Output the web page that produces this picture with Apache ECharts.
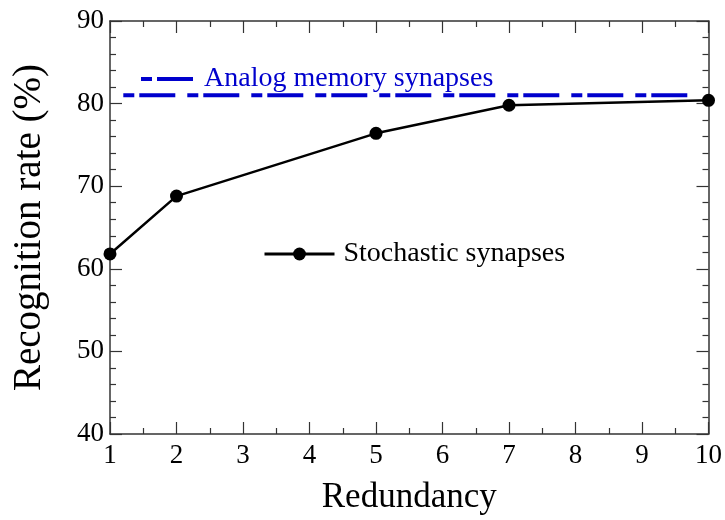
<!DOCTYPE html>
<html>
<head>
<meta charset="utf-8">
<script src="https://cdn.jsdelivr.net/npm/echarts@6/dist/echarts.min.js"></script>
<style>html,body{margin:0;padding:0;background:#fff}#c{width:725px;height:520px}</style>
</head>
<body>
<div id="c"></div>
<script>
var redundancy = [1, 2, 5, 7, 10];
var stochasticRate = [61.8, 68.8, 76.4, 79.8, 80.4];
var analogX = [1.2, 9.73];
var analogRate = [81, 81];
var xTicks = [1, 2, 3, 4, 5, 6, 7, 8, 9, 10];
var yTicks = [40, 50, 60, 70, 80, 90];

var FONT = '"Liberation Serif", "DejaVu Serif", serif';
var AX = '#333';
var chart = echarts.init(document.getElementById('c'), null, {renderer: 'canvas'});

function xAx(pos, show) {
  return {
    type: 'value', position: pos, min: xTicks[0], max: xTicks[xTicks.length - 1], interval: 1,
    axisLine: {show: true, onZero: false, lineStyle: {color: AX, width: 1.5}},
    axisTick: {show: true, inside: true, length: 12, lineStyle: {color: AX, width: 1.2}},
    minorTick: {show: true, splitNumber: 2, length: 6, lineStyle: {color: AX, width: 1.2}},
    splitLine: {show: false},
    axisLabel: {show: show, fontFamily: FONT, fontSize: 27, color: '#000', margin: 8},
    name: show ? 'Redundancy' : '', nameLocation: 'middle', nameGap: 46,
    nameTextStyle: {fontFamily: FONT, fontSize: 35, color: '#000'}
  };
}
function yAx(pos, show) {
  return {
    type: 'value', position: pos, min: yTicks[0], max: yTicks[yTicks.length - 1], interval: 10,
    axisLine: {show: true, onZero: false, lineStyle: {color: AX, width: 1.5}},
    axisTick: {show: true, inside: true, length: 12, lineStyle: {color: AX, width: 1.2}},
    minorTick: {show: true, splitNumber: 5, length: 6, lineStyle: {color: AX, width: 1.2}},
    splitLine: {show: false},
    axisLabel: {show: show, fontFamily: FONT, fontSize: 27, color: '#000', margin: 6},
    name: show ? 'Recognition rate (%)' : '', nameLocation: 'middle', nameGap: 61, nameRotate: 90,
    nameTextStyle: {fontFamily: FONT, fontSize: 39, color: '#000'}
  };
}

var analogData = analogX.map(function (x, i) { return [x, analogRate[i]]; });
var stochData = redundancy.map(function (x, i) { return [x, stochasticRate[i]]; });

chart.setOption({
  animation: false,
  grid: {left: 110, right: 13, top: 21, bottom: 79},
  xAxis: [xAx('bottom', true), xAx('top', false)],
  yAxis: [yAx('left', true), yAx('right', false)],
  legend: [
    {
      data: ['Analog memory synapses'], left: 134, top: 60, itemWidth: 53, itemHeight: 14,
      itemStyle: {opacity: 0},
      lineStyle: {width: 4, color: '#0000cd', type: [11, 5, 36, 12]},
      textStyle: {fontFamily: FONT, fontSize: 28, color: '#0000cd', padding: [0, 0, 0, 5]},
      selectedMode: false
    },
    {
      data: ['Stochastic synapses'], left: 258, top: 235, itemWidth: 70, itemHeight: 16,
      lineStyle: {width: 3},
      textStyle: {fontFamily: FONT, fontSize: 28, color: '#000', padding: [0, 0, 0, 4]},
      selectedMode: false
    }
  ],
  series: [
    {
      name: 'Analog memory synapses', type: 'line', data: analogData, showSymbol: false, symbol: 'none',
      lineStyle: {color: '#0000cd', width: 4, type: [11, 5, 36, 12]},
      itemStyle: {color: '#0000cd'}
    },
    {
      name: 'Stochastic synapses', type: 'line', data: stochData, symbol: 'circle', symbolSize: 13,
      lineStyle: {color: '#000', width: 2.5}, itemStyle: {color: '#000'}
    }
  ]
});
</script>
</body>
</html>
